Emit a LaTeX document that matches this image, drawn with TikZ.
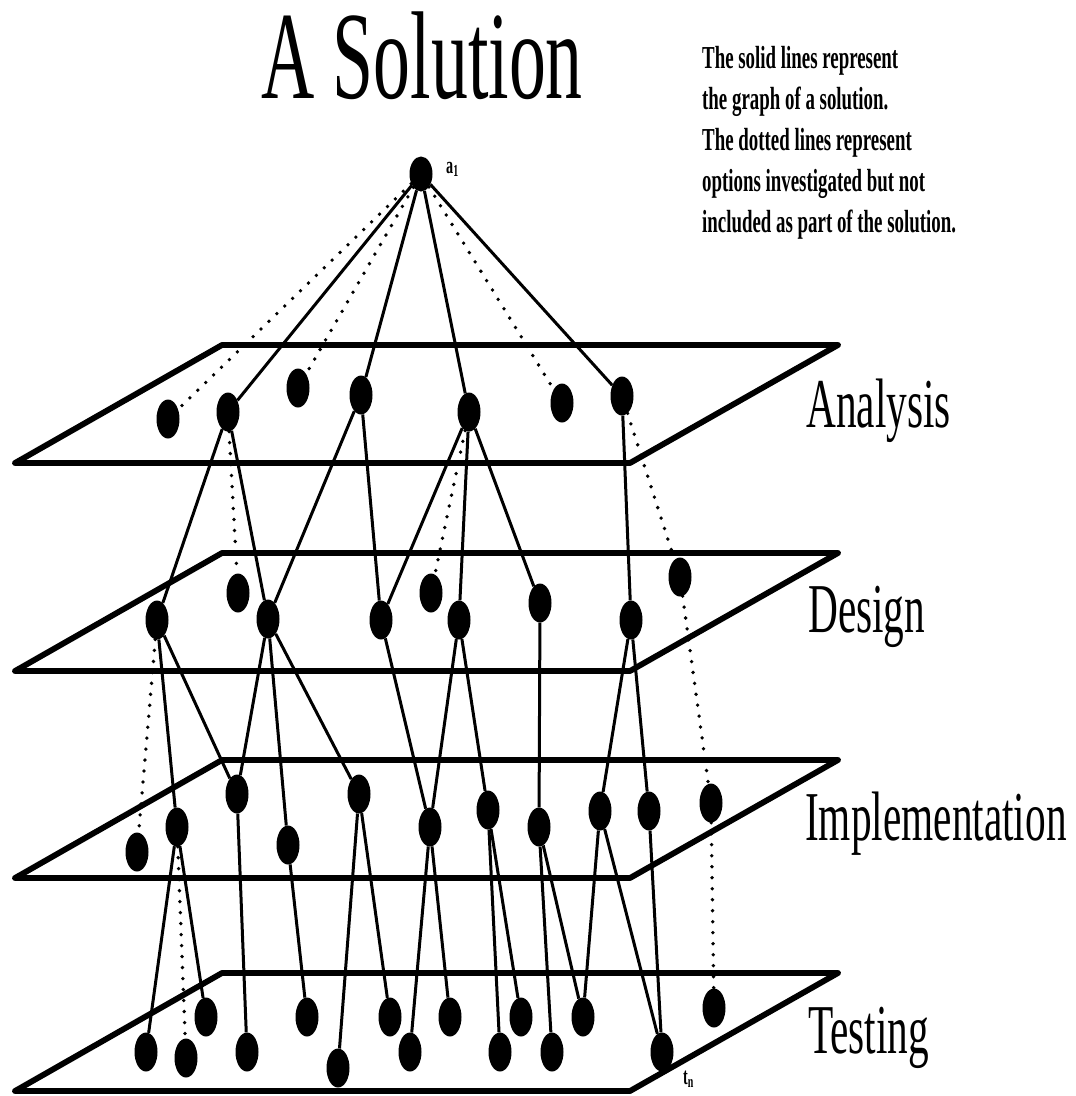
\documentclass[tikz,border=0pt]{standalone}
\usepackage{fontspec}
\newfontfamily\condfont[FakeStretch=0.59]{Liberation Serif}
\usetikzlibrary{shapes.geometric}

\begin{document}
\begin{tikzpicture}[x=1pt,y=-1pt]
    \tikzset{vertex/.style = {shape=ellipse,fill=black,minimum width=23pt,minimum height=39pt,inner sep=0pt}}
    \tikzset{chosen/.style = {line width=3pt}}
    \tikzset{tried/.style = {line width=3.8pt,line cap=round,dash pattern=on 0pt off 11pt}}
    \tikzset{plane/.style = {line width=5.8pt,line join=round}}
    \tikzset{phase/.style = {anchor=base west,inner sep=0pt,font=\condfont\fontsize{70}{70}\selectfont}}
    \useasboundingbox (0,0) rectangle (1076,1096);

    % texts
    \node[anchor=base,inner sep=0pt,font=\condfont\fontsize{125}{125}\selectfont] (title) at (422,98) {A Solution};
    \node[anchor=north west,align=left,inner sep=0pt,font=\condfont\bfseries\fontsize{32}{41}\selectfont] (legend) at (702,46)
    {The solid lines represent\\the graph of a solution.\\The dotted lines represent\\options investigated but not\\included as part of the solution.};
    \node[phase] (analysis) at (806,427) {Analysis};
    \node[phase] (design) at (808,632) {Design};
    \node[phase] (implementation) at (805,840) {Implementation};
    \node[phase] (testing) at (808,1053) {Testing};

    % planes
    \draw[plane] (222,345) -- (838,345) -- (630,463) -- (15,463) -- cycle;
    \draw[plane] (222,553) -- (838,553) -- (630,671) -- (15,671) -- cycle;
    \draw[plane] (222,760) -- (838,760) -- (630,878) -- (15,878) -- cycle;
    \draw[plane] (222,973) -- (838,973) -- (630,1091) -- (15,1091) -- cycle;

    % vertices
    \node[vertex,minimum height=35pt] (a1) at (421,174) {};
    \node[anchor=base west,inner sep=0pt,font=\condfont\bfseries\fontsize{24}{24}\selectfont] (a1label) at (446,173) {a\textsubscript{1}};

    \node[vertex] (b1) at (168,419) {};
    \node[vertex] (b2) at (228,412) {};
    \node[vertex] (b3) at (298,388) {};
    \node[vertex] (b4) at (361,395) {};
    \node[vertex] (b5) at (469,412) {};
    \node[vertex] (b6) at (562,403) {};
    \node[vertex] (b7) at (622,396) {};

    \node[vertex] (c1) at (157,620) {};
    \node[vertex] (c2) at (238,593) {};
    \node[vertex] (c3) at (268,619) {};
    \node[vertex] (c4) at (381,620) {};
    \node[vertex] (c5) at (431,593) {};
    \node[vertex] (c6) at (459,620) {};
    \node[vertex] (c7) at (540,603) {};
    \node[vertex] (c8) at (631,620) {};
    \node[vertex] (c9) at (680,577) {};

    \node[vertex] (d1) at (137,852) {};
    \node[vertex] (d2) at (177,827) {};
    \node[vertex] (d3) at (237,794) {};
    \node[vertex] (d4) at (288,845) {};
    \node[vertex] (d5) at (359,794) {};
    \node[vertex] (d6) at (430,827) {};
    \node[vertex] (d7) at (488,810) {};
    \node[vertex] (d8) at (539,827) {};
    \node[vertex] (d9) at (600,811) {};
    \node[vertex] (d10) at (649,811) {};
    \node[vertex] (d11) at (711,803) {};

    \node[vertex] (e1) at (146,1052) {};
    \node[vertex] (e2) at (186,1058) {};
    \node[vertex] (e3) at (206,1017) {};
    \node[vertex] (e4) at (247,1052) {};
    \node[vertex] (e5) at (307,1017) {};
    \node[vertex] (e6) at (338,1068) {};
    \node[vertex] (e7) at (390,1017) {};
    \node[vertex] (e8) at (410,1052) {};
    \node[vertex] (e9) at (450,1017) {};
    \node[vertex] (e10) at (500,1052) {};
    \node[vertex] (e11) at (521,1017) {};
    \node[vertex] (e12) at (552,1052) {};
    \node[vertex] (e13) at (583,1017) {};
    \node[vertex] (e14) at (662,1052) {};
    \node[vertex] (e15) at (714,1008) {};
    \node[anchor=base west,inner sep=0pt,font=\condfont\bfseries\fontsize{24}{24}\selectfont] (tnlabel) at (683,1084) {t\textsubscript{n}};

    % edges
    \path[tried] (a1) edge (b1);
    \path[chosen] (a1) edge (b2);
    \path[tried] (a1) edge (b3);
    \path[chosen] (a1) edge (b4);
    \path[chosen] (a1) edge (b5);
    \path[tried] (a1) edge (b6);
    \path[chosen] (a1) edge (b7);

    \path[chosen] (b2) edge (c1);
    \path[tried] (b2) edge (c2);
    \path[chosen] (b2) edge (c3);
    \path[chosen] (b4) edge (c3);
    \path[chosen] (b4) edge (c4);
    \path[chosen] (b5) edge (c4);
    \path[tried] (b5) edge (c5);
    \path[chosen] (b5) edge (c6);
    \path[chosen] (b5) edge (c7);
    \path[chosen] (b7) edge (c8);
    \path[tried] (b7) edge (c9);

    \path[tried] (c1) edge (d1);
    \path[chosen] (c1) edge (d2);
    \path[chosen] (c1) edge (d3);
    \path[chosen] (c3) edge (d3);
    \path[chosen] (c3) edge (d4);
    \path[chosen] (c3) edge (d5);
    \path[chosen] (c4) edge (d6);
    \path[chosen] (c6) edge (d6);
    \path[chosen] (c6) edge (d7);
    \path[chosen] (c7) edge (d8);
    \path[chosen] (c8) edge (d9);
    \path[chosen] (c8) edge (d10);
    \path[tried] (c9) edge (d11);

    \path[chosen] (d2) edge (e1);
    \path[tried] (d2) edge (e2);
    \path[chosen] (d2) edge (e3);
    \path[chosen] (d3) edge (e4);
    \path[chosen] (d4) edge (e5);
    \path[chosen] (d5) edge (e6);
    \path[chosen] (d5) edge (e7);
    \path[chosen] (d6) edge (e8);
    \path[chosen] (d6) edge (e9);
    \path[chosen] (d7) edge (e10);
    \path[chosen] (d7) edge (e11);
    \path[chosen] (d8) edge (e12);
    \path[chosen] (d8) edge (e13);
    \path[chosen] (d9) edge (e13);
    \path[chosen] (d9) edge (e14);
    \path[chosen] (d10) edge (e14);
    \path[tried] (d11) edge (e15);
\end{tikzpicture}
\end{document}
